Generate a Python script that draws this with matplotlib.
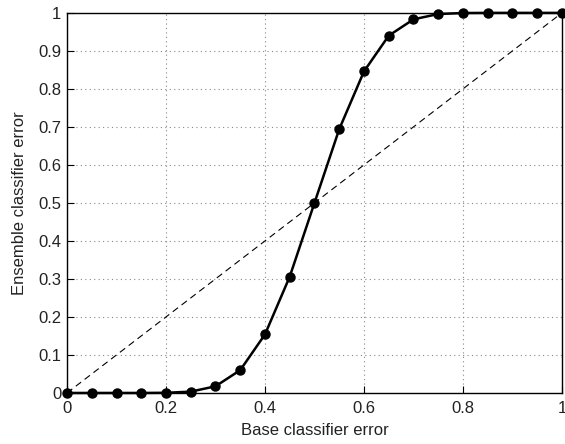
import matplotlib
matplotlib.use("Agg")
import matplotlib.pyplot as plt

plt.rcParams['font.family'] = ['Liberation Sans', 'DejaVu Sans']

# Base classifier error and resulting majority-vote ensemble error
base_error = [0.0, 0.05, 0.10, 0.15, 0.20, 0.25, 0.30, 0.35, 0.40, 0.45, 0.50,
              0.55, 0.60, 0.65, 0.70, 0.75, 0.80, 0.85, 0.90, 0.95, 1.0]
ensemble_error = [0.0, 0.0, 0.0, 0.0, 0.0004, 0.0034, 0.0175, 0.060, 0.154, 0.306, 0.500,
                  0.694, 0.846, 0.940, 0.983, 0.997, 0.9996, 1.0, 1.0, 1.0, 1.0]
ticks = [0, 0.2, 0.4, 0.6, 0.8, 1]
yticks = [0, 0.1, 0.2, 0.3, 0.4, 0.5, 0.6, 0.7, 0.8, 0.9, 1]

fig = plt.figure(figsize=(5.65, 4.44), dpi=100)
ax = fig.add_axes([0.1186, 0.115, 0.876, 0.856])

ax.plot([0, 1], [0, 1], color='black', linestyle=(0, (6, 4)), linewidth=0.8)
ax.plot(base_error, ensemble_error, color='black', linewidth=1.8,
        marker='o', markersize=6.5, clip_on=False, zorder=3)

ax.set_xlim(0, 1)
ax.set_ylim(0, 1)
ax.set_xticks(ticks)
ax.set_xticklabels(['0', '0.2', '0.4', '0.6', '0.8', '1'])
ax.set_yticks(yticks)
ax.set_yticklabels(['0', '0.1', '0.2', '0.3', '0.4', '0.5', '0.6', '0.7', '0.8', '0.9', '1'])
ax.tick_params(direction='in', length=5, labelsize=12, width=0.8,
               labelcolor='#222222')
ax.tick_params(axis='x', pad=6)
ax.tick_params(axis='y', pad=4)
ax.grid(True, color='#888888', linestyle=(0, (1, 3)), linewidth=0.8)
ax.set_axisbelow(True)
for s in ax.spines.values():
    s.set_linewidth(1.0)

ax.set_xlabel('Base classifier error', fontsize=12, labelpad=5, color='#222222')
ax.set_ylabel('Ensemble classifier error', fontsize=12, labelpad=8, color='#222222')

fig.savefig('out.png', dpi=100)
